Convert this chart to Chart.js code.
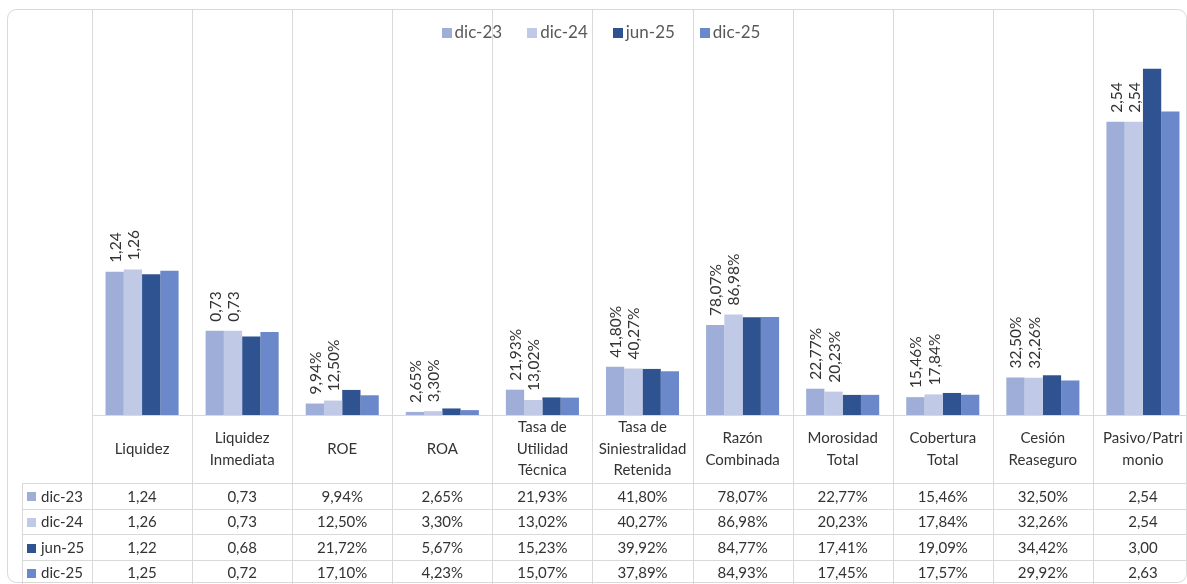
<!DOCTYPE html>
<html>
<head>
<meta charset="utf-8">
<script src="https://cdn.jsdelivr.net/npm/chart.js@4"></script>
<style>
  html, body { margin: 0; padding: 0; background: #ffffff; }
  #wrap { width: 1187px; height: 584px; overflow: hidden; position: relative; }
  canvas { display: block; }
</style>
</head>
<body>
<div id="wrap"><canvas id="c" width="1194" height="600"></canvas></div>
<script>
// Indicator names (header row of the data table, one entry per line)
const categories = [
  ["Liquidez"],
  ["Liquidez", "Inmediata"],
  ["ROE"],
  ["ROA"],
  ["Tasa de", "Utilidad", "Técnica"],
  ["Tasa de", "Siniestralidad", "Retenida"],
  ["Razón", "Combinada"],
  ["Morosidad", "Total"],
  ["Cobertura", "Total"],
  ["Cesión", "Reaseguro"],
  ["Pasivo/Patri", "monio"]
];

// Which indicators are expressed as percentages
const isPercent = [false, false, true, true, true, true, true, true, true, true, false];

// Period labels
const periods = ["dic-23", "dic-24", "jun-25", "dic-25"];

// Values per period (percentages in percent units, ratios as plain numbers)
const dic23 = [1.24, 0.73, 9.94, 2.65, 21.93, 41.80, 78.07, 22.77, 15.46, 32.50, 2.54];
const dic24 = [1.26, 0.73, 12.50, 3.30, 13.02, 40.27, 86.98, 20.23, 17.84, 32.26, 2.54];
const jun25 = [1.22, 0.68, 21.72, 5.67, 15.23, 39.92, 84.77, 17.41, 19.09, 34.42, 3.00];
const dic25 = [1.25, 0.72, 17.10, 4.23, 15.07, 37.89, 84.93, 17.45, 17.57, 29.92, 2.63];

const seriesValues = [dic23, dic24, jun25, dic25];
const seriesColors = ["#9eaed8", "#c0c9e5", "#2f5290", "#6b89ca"];
// Only the first two periods carry value labels above their bars
const labelledSeries = [0, 1];

const FONT = "Lato, 'Open Sans', 'Noto Sans', sans-serif";
const TEXT = "#333333";
const GRID = "#d9d9d9";

function fmt(v, pct) {
  return v.toFixed(2).replace(".", ",") + (pct ? "%" : "");
}
function plotValue(v, i) {
  return isPercent[i] ? v / 100 : v;
}

// Table geometry (header row, then one row per period)
const TABLE_LEFT = 22;
const HEADER_BOTTOM = 483;
const ROW_H = 25.6;

const tablePlugin = {
  id: "dataTable",
  beforeDatasetsDraw(chart) {
    const ctx = chart.ctx;
    const xs = chart.scales.x;
    const area = chart.chartArea;
    const n = categories.length;
    const half = (xs.getPixelForValue(1) - xs.getPixelForValue(0)) / 2;
    const bottom = chart.height;
    ctx.save();
    ctx.strokeStyle = GRID;
    ctx.lineWidth = 1;
    // vertical separators between categories
    for (let i = 0; i <= n; i++) {
      const x = Math.round(xs.getPixelForValue(Math.min(i, n - 1)) + (i === n ? half : -half)) + 0.5;
      ctx.beginPath();
      ctx.moveTo(x, 10);
      ctx.lineTo(x, bottom);
      ctx.stroke();
    }
    // table left edge
    ctx.beginPath();
    ctx.moveTo(TABLE_LEFT + 0.5, HEADER_BOTTOM);
    ctx.lineTo(TABLE_LEFT + 0.5, bottom);
    ctx.stroke();
    // baseline of the bars
    ctx.beginPath();
    ctx.moveTo(area.left, Math.round(area.bottom) + 0.5);
    ctx.lineTo(area.right, Math.round(area.bottom) + 0.5);
    ctx.stroke();
    // horizontal row lines
    for (let r = 0; r <= periods.length; r++) {
      const y = Math.round(HEADER_BOTTOM + r * ROW_H) + 0.5;
      ctx.beginPath();
      ctx.moveTo(TABLE_LEFT, y);
      ctx.lineTo(area.right, y);
      ctx.stroke();
    }
    ctx.restore();
  },
  afterDatasetsDraw(chart) {
    const ctx = chart.ctx;
    const xs = chart.scales.x;
    const area = chart.chartArea;
    ctx.save();
    ctx.fillStyle = TEXT;
    ctx.font = "15px " + FONT;
    ctx.textAlign = "center";
    ctx.textBaseline = "middle";

    // header row: indicator names
    const headerMid = (area.bottom + HEADER_BOTTOM) / 2;
    const lh = 21.5;
    categories.forEach((lines, i) => {
      const x = xs.getPixelForValue(i);
      const y0 = headerMid - (lines.length - 1) * lh / 2;
      lines.forEach((t, k) => ctx.fillText(t, x, y0 + k * lh));
    });

    // body rows: legend key + values
    periods.forEach((p, r) => {
      const yMid = HEADER_BOTTOM + r * ROW_H + ROW_H / 2 + 1;
      ctx.fillStyle = seriesColors[r];
      ctx.fillRect(27, Math.round(yMid - 4.5), 9, 9);
      ctx.fillStyle = TEXT;
      ctx.textAlign = "left";
      ctx.fillText(p, 41, yMid);
      ctx.textAlign = "center";
      seriesValues[r].forEach((v, i) => {
        ctx.fillText(fmt(v, isPercent[i]), xs.getPixelForValue(i), yMid);
      });
    });

    // rotated value labels above the bars
    ctx.font = "15.5px " + FONT;
    ctx.textAlign = "left";
    ctx.textBaseline = "middle";
    labelledSeries.forEach(ds => {
      const meta = chart.getDatasetMeta(ds);
      meta.data.forEach((bar, i) => {
        const v = seriesValues[ds][i];
        ctx.save();
        ctx.translate(bar.x + 1, bar.y - 9);
        ctx.rotate(-Math.PI / 2);
        ctx.fillText(fmt(v, isPercent[i]), 0, 0);
        ctx.restore();
      });
    });

    // legend across the top of the plot
    ctx.font = "17px " + FONT;
    const gap = 25;
    const widths = periods.map(p => 13 + ctx.measureText(p).width);
    const total = widths.reduce((a, b) => a + b, 0) + gap * (periods.length - 1);
    let lx = 601 - total / 2;
    periods.forEach((p, k) => {
      ctx.fillStyle = seriesColors[k];
      ctx.fillRect(Math.round(lx), 28, 10, 10);
      ctx.fillStyle = "#595959";
      ctx.fillText(p, lx + 13, 33);
      lx += widths[k] + gap;
    });

    // rounded frame of the chart
    ctx.strokeStyle = GRID;
    ctx.lineWidth = 1;
    ctx.beginPath();
    ctx.roundRect(7.5, 9.5, 1179, 573, 9);
    ctx.stroke();
    ctx.restore();
  }
};

const chart = new Chart(document.getElementById("c"), {
  type: "bar",
  data: {
    labels: categories.map(l => l.join(" ")),
    datasets: periods.map((p, k) => ({
      label: p,
      data: seriesValues[k].map(plotValue),
      backgroundColor: seriesColors[k],
      borderWidth: 0,
      barPercentage: 1,
      categoryPercentage: 0.73
    }))
  },
  options: {
    responsive: false,
    animation: false,
    devicePixelRatio: 1,
    layout: { padding: { left: 92, right: 1, top: 11, bottom: 185 } },
    plugins: {
      legend: { display: false },
      title: { display: false },
      tooltip: { enabled: false }
    },
    scales: {
      x: { display: false, offset: true },
      y: { display: false, min: 0, max: 3.5 }
    }
  },
  plugins: [tablePlugin]
});
</script>
</body>
</html>
